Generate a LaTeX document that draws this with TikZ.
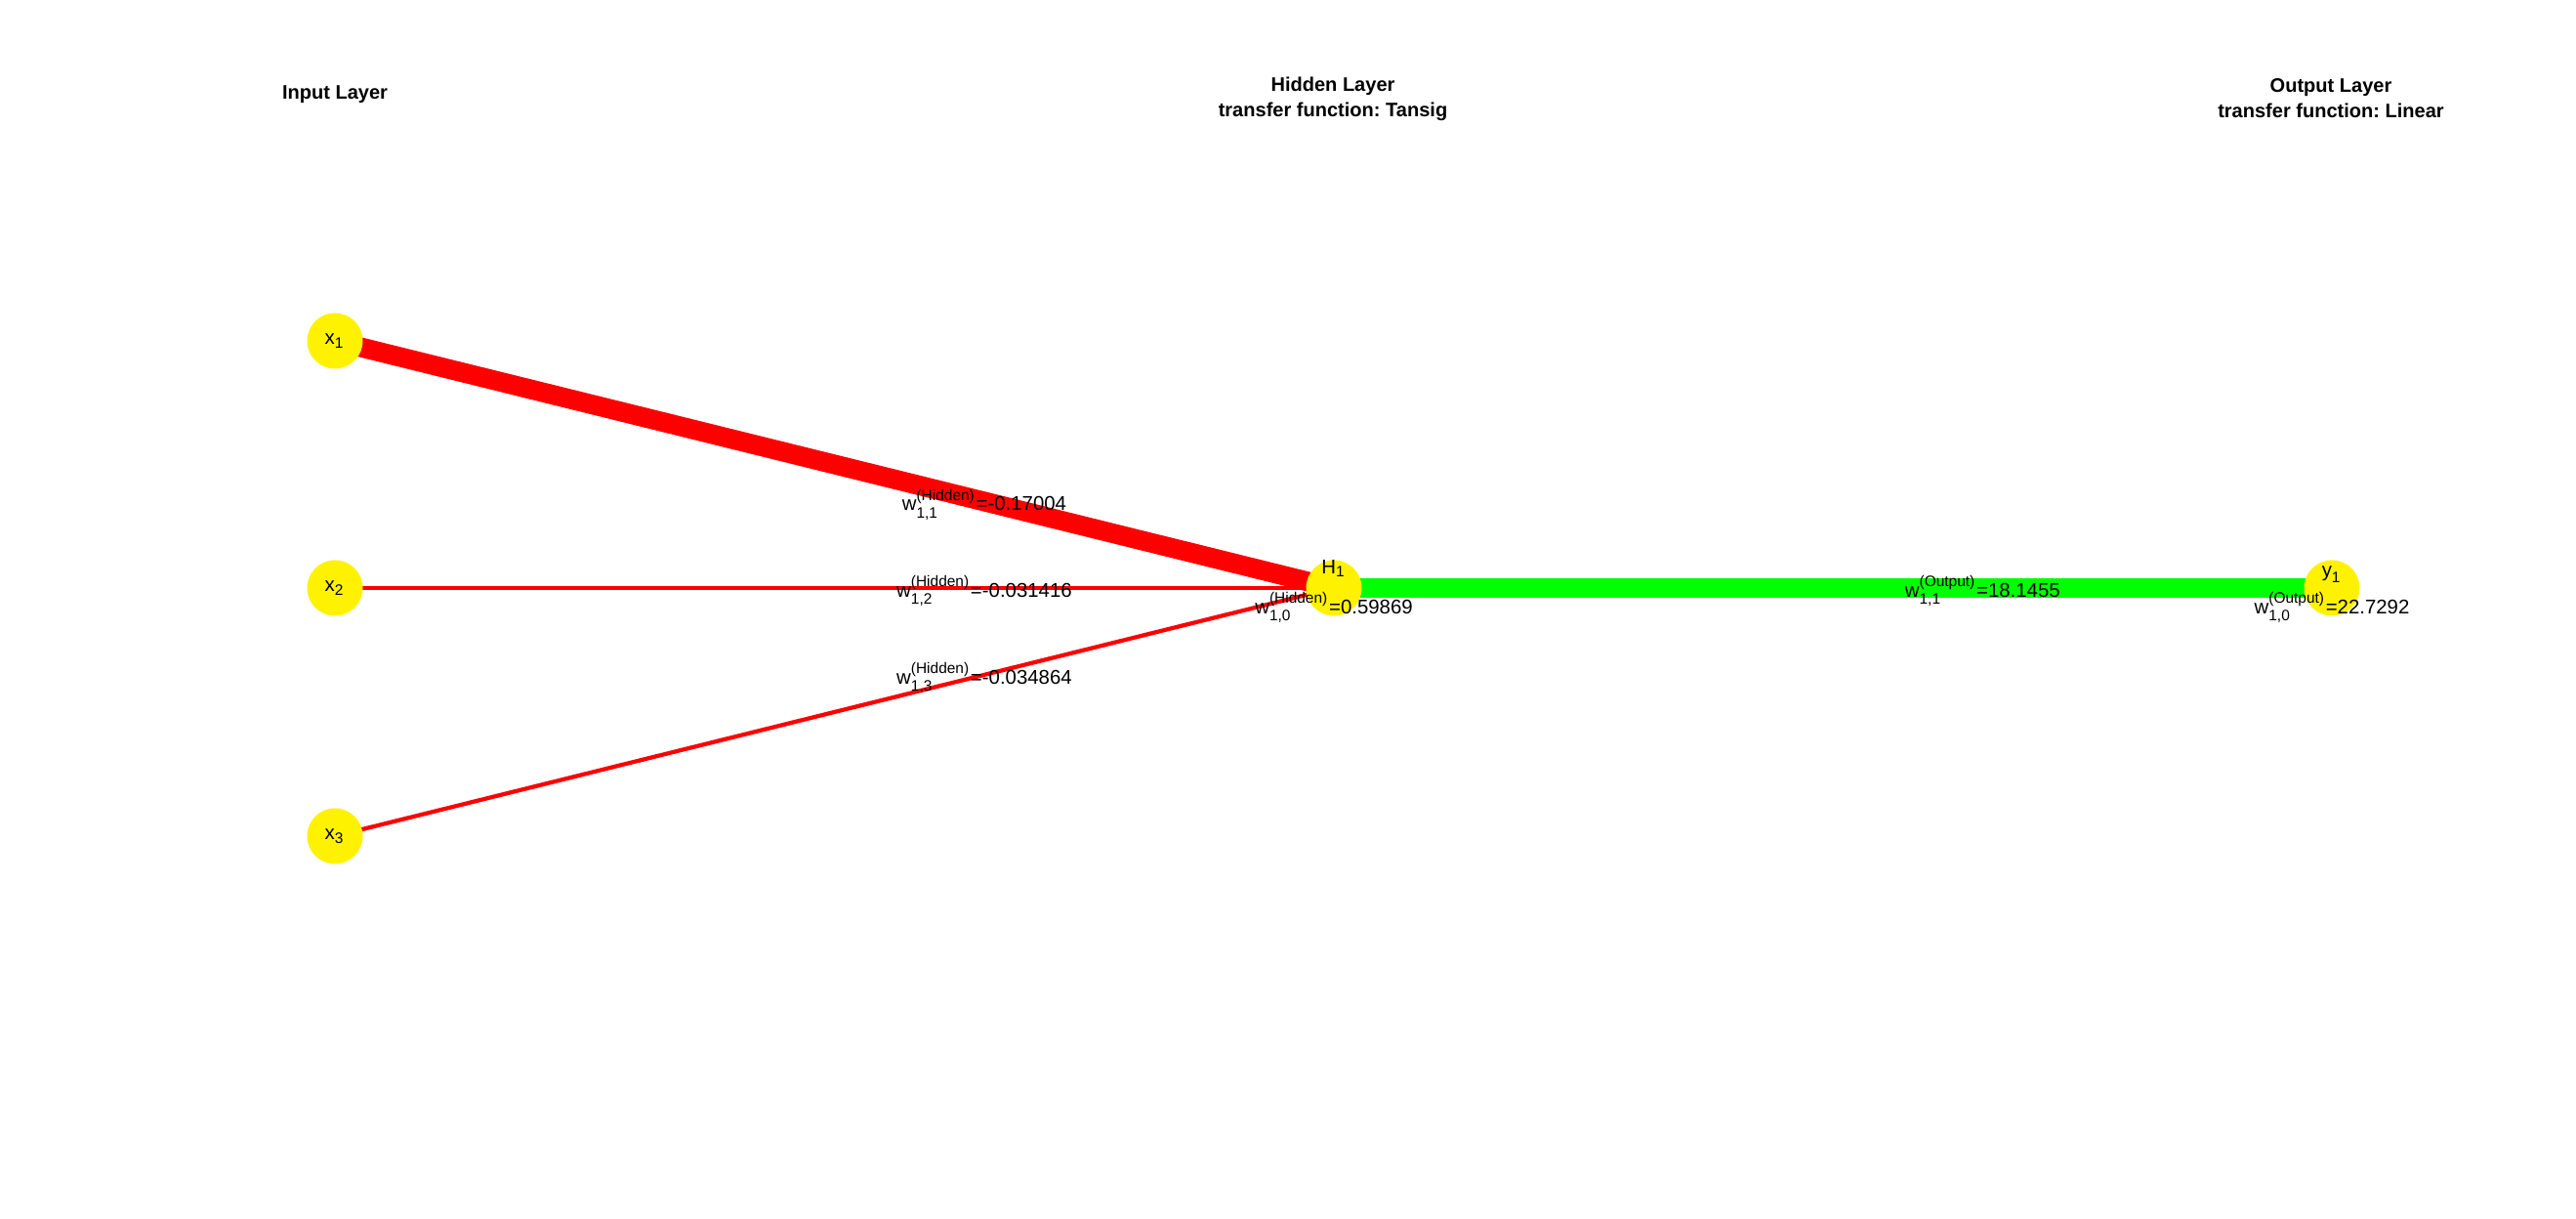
\documentclass[tikz,border=0pt]{standalone}
\usepackage{amsmath}
\usepackage{fontspec}
\setmainfont{Liberation Sans}
\usepackage{tikz}
\usetikzlibrary{positioning,backgrounds}
\DeclareMathSizes{5.8}{5.8}{4.4}{3.5}
\frenchspacing
\newcommand{\wlab}[3]{$\text{w}^{\text{(#1)}}_{\text{#2}}$=#3}
\newcommand{\vlab}[2]{$\text{#1}_{\text{#2}}$}

\begin{document}
\begin{tikzpicture}[
            neuron_node/.style={circle, fill=yellow, minimum size=5.7mm, inner sep=0pt,
                font=\fontsize{5.8}{5.8}\selectfont},
            weight_text/.style={inner sep=0pt, anchor=mid, text=black,
                font=\fontsize{5.8}{5.8}\selectfont},
            title_text/.style={align=center, font=\fontsize{5.7}{7.4}\selectfont\bfseries},
            hidden_link/.style={red},
            output_link/.style={green}
        ]
        \useasboundingbox (0,0) rectangle (26.38,12.48);

        % Layer titles
        \node[title_text] (inTitle) at (3.43,11.51) {Input Layer};
        \node[title_text] (hidTitle) at (13.65,11.47) {Hidden Layer\\transfer function: Tansig};
        \node[title_text] (outTitle) at (23.87,11.47) {Output Layer\\transfer function: Linear};

        % Neurons
        \node[neuron_node] (x1) at (3.43,8.99) {\vlab{x}{1}};
        \node[neuron_node] (x2) at (3.43,6.46) {\vlab{x}{2}};
        \node[neuron_node] (x3) at (3.43,3.92) {\vlab{x}{3}};
        \node[neuron_node] (H1) at (13.66,6.46) {};
        \node[neuron_node] (y1) at (23.88,6.46) {};

        % Names and biases
        \node[weight_text, above=0.24cm of H1.center, anchor=mid] (H1name) {\vlab{H}{1}};
        \node[weight_text, above=0.21cm of y1.center, anchor=mid] (y1name) {\vlab{y}{1}};
        \node[weight_text, below=0.17cm of H1.center, anchor=mid] (H1bias) {\wlab{Hidden}{1,0}{0.59869}};
        \node[weight_text, below=0.17cm of y1.center, anchor=mid] (y1bias) {\wlab{Output}{1,0}{22.7292}};

        % Weights (behind the neurons)
        \begin{scope}[on background layer]
            \draw[hidden_link, line width=5.7pt] (x1.center) -- (H1.center)
                node[weight_text, pos=0.65] (w11) {\wlab{Hidden}{1,1}{-0.17004}};
            \draw[hidden_link, line width=1.2pt] (x2.center) -- (H1.center)
                node[weight_text, pos=0.65] (w12) {\wlab{Hidden}{1,2}{-0.031416}};
            \draw[hidden_link, line width=1.2pt] (x3.center) -- (H1.center)
                node[weight_text, pos=0.65] (w13) {\wlab{Hidden}{1,3}{-0.034864}};
            \draw[output_link, line width=5.7pt] (H1.center) -- (y1.center)
                node[weight_text, pos=0.65] (v11) {\wlab{Output}{1,1}{18.1455}};
        \end{scope}
\end{tikzpicture}
\end{document}
